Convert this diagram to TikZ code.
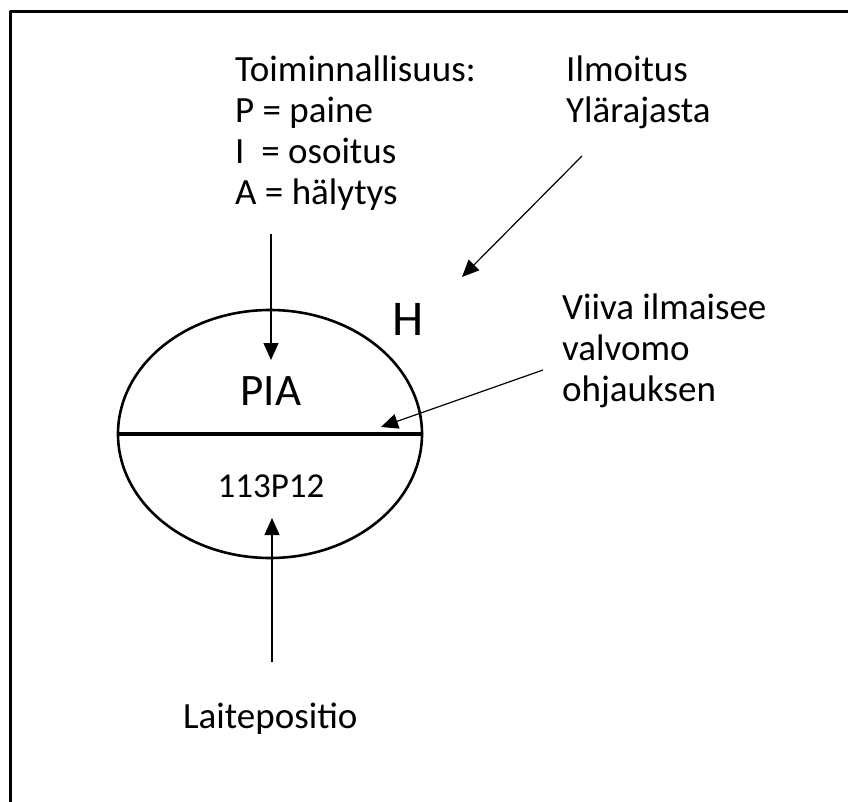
\documentclass[tikz,border=0pt]{standalone}
\usepackage{fontspec}
\setmainfont{Carlito}
\usetikzlibrary{arrows.meta,shapes.geometric}
\begin{document}
\begin{tikzpicture}[x=1pt, y=-1pt, >={Triangle[length=17pt,width=15pt]}, line join=round,
	lbl/.style={anchor=base west, inner sep=0pt, align=left, font=\fontsize{37}{41}\selectfont},
	pointer/.style={->, line width=1.2pt}]
	\useasboundingbox (0,0) rectangle (848,802);
	% === KEHYS ===
	\draw[line width=3pt] (10,802) -- (10,12) -- (848,12);

	% === TUNNUS ===
	\node[draw, ellipse, line width=2.6pt, minimum width=304pt, minimum height=248pt, inner sep=0pt] (tag) at (270,434) {};
	\draw[line width=3.6pt] (tag.west) -- (tag.east);
	\node[anchor=base, inner sep=0pt, font=\fontsize{45}{45}\selectfont] (pia) at (271,405) {PIA};
	\node[anchor=base, inner sep=0pt, font=\fontsize{35}{35}\selectfont] (pos) at (271,497) {113P12};
	\node[anchor=base, inner sep=0pt, font=\fontsize{50}{50}\selectfont] (high) at (408,335) {H};

	% === SELITTEET (base = viimeisen rivin perusviiva) ===
	\node[lbl] (func) at (235,205) {Toiminnallisuus:\\P = paine\\I\ \ = osoitus\\A = hälytys};
	\node[lbl] (alarm) at (566,123) {Ilmoitus\\Ylärajasta};
	\node[lbl] (line) at (562,401) {Viiva ilmaisee\\valvomo\\ohjauksen};
	\node[lbl] (place) at (183,728) {Laitepositio};

	% === NUOLET ===
	\coordinate (funcEnd) at (271,234);
	\coordinate (funcTip) at (271,360);
	\coordinate (alarmEnd) at (582,156);
	\coordinate (alarmTip) at (462,277);
	\coordinate (lineEnd) at (543,370);
	\coordinate (lineTip) at (381,427);
	\coordinate (placeEnd) at (272,662);
	\coordinate (placeTip) at (272,518);
	\draw[pointer] (funcEnd) -- (funcTip);
	\draw[pointer] (alarmEnd) -- (alarmTip);
	\draw[pointer] (lineEnd) -- (lineTip);
	\draw[pointer] (placeEnd) -- (placeTip);
\end{tikzpicture}
\end{document}
